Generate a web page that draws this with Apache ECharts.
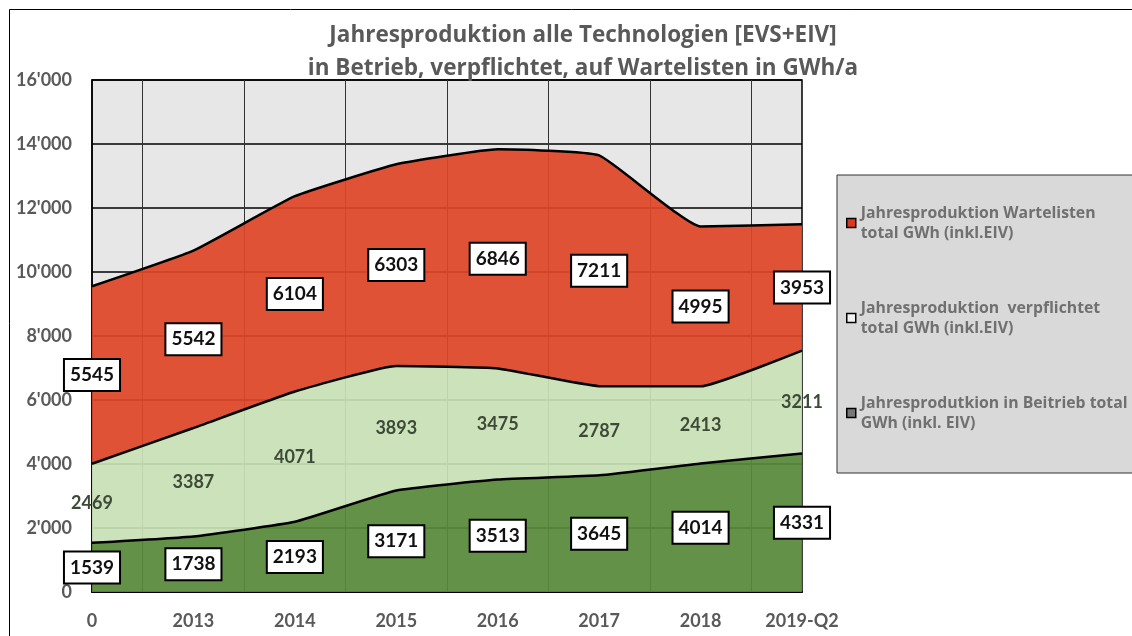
<!DOCTYPE html>
<html>
<head>
<meta charset="utf-8">
<script src="https://cdn.jsdelivr.net/npm/echarts@6/dist/echarts.min.js"></script>
<style>
  html, body { margin: 0; padding: 0; background: #fff; }
  #chart { width: 1132px; height: 636px; }
</style>
</head>
<body>
<div id="chart"></div>
<script>
const categories = ['0', '2013', '2014', '2015', '2016', '2017', '2018', '2019-Q2']
const inBetrieb = [1539, 1738, 2193, 3171, 3513, 3645, 4014, 4331]
const verpflichtet = [2469, 3387, 4071, 3893, 3475, 2787, 2413, 3211]
const wartelisten = [5545, 5542, 6104, 6303, 6846, 7211, 4995, 3953]

const nameWarte = 'Jahresproduktion Wartelisten total GWh (inkl.EIV)'
const nameVerpf = 'Jahresproduktion  verpflichtet total GWh (inkl.EIV)'
const nameBetrieb = 'Jahresprodutkion in Beitrieb total GWh (inkl. EIV)'
const legendText = {
  [nameWarte]: 'Jahresproduktion Wartelisten\ntotal GWh (inkl.EIV)',
  [nameVerpf]: 'Jahresproduktion  verpflichtet\ntotal GWh (inkl.EIV)',
  [nameBetrieb]: 'Jahresprodutkion in Beitrieb total\nGWh (inkl. EIV)'
}

const FONT = 'Lato'
const chart = echarts.init(document.getElementById('chart'))

// label anchors in the middle of each band
const midBetrieb = inBetrieb.map((v, i) => [i, v / 2, v])
const midVerpf = verpflichtet.map((v, i) => [i, inBetrieb[i] + v / 2, v])
const midWarte = wartelisten.map((v, i) => [i, inBetrieb[i] + verpflichtet[i] + v / 2, v])

const boxLabel = {
  show: true,
  position: 'inside',
  formatter: p => p.value[2],
  fontFamily: FONT,
  fontWeight: 'bold',
  fontSize: 19,
  color: '#111',
  backgroundColor: '#fff',
  borderColor: '#000',
  borderWidth: 2,
  padding: [6, 5, 5, 5]
}

function areaSeries(name, data, color) {
  return {
    name,
    type: 'line',
    stack: 'total',
    data,
    smooth: 0.12,
    symbol: 'none',
    lineStyle: { color: '#000', width: 2.5 },
    itemStyle: { color },
    areaStyle: { color, opacity: 0.92 },
    z: 3
  }
}

function labelSeries(data, label) {
  return {
    type: 'scatter',
    data,
    symbolSize: 0,
    silent: true,
    itemStyle: { opacity: 1 },
    label,
    z: 10
  }
}

const option = {
  animation: false,
  backgroundColor: '#fff',
  title: {
    text: 'Jahresproduktion alle Technologien [EVS+EIV]\nin Betrieb, verpflichtet, auf Wartelisten in GWh/a',
    left: 578,
    top: 14,
    textAlign: 'center',
    textStyle: {
      fontFamily: 'Open Sans',
      fontWeight: 'bold',
      fontSize: 22.5,
      lineHeight: 33,
      color: '#595959'
    }
  },
  legend: {
    orient: 'vertical',
    left: 837,
    top: 175,
    width: 293,
    height: 285,
    padding: [18, 6, 30, 9],
    backgroundColor: '#d9d9d9',
    borderColor: '#333',
    borderWidth: 1,
    itemWidth: 9,
    itemHeight: 9,
    itemGap: 35,
    icon: 'rect',
    formatter: n => legendText[n],
    textStyle: {
      fontFamily: 'Open Sans',
      fontWeight: 'bold',
      fontSize: 15.8,
      lineHeight: 20,
      color: '#707070',
      padding: [20, 0, 0, 0]
    },
    data: [
      { name: nameWarte, itemStyle: { color: '#d63a22', borderColor: '#000', borderWidth: 1.5 } },
      { name: nameVerpf, itemStyle: { color: '#f2f2f2', borderColor: '#000', borderWidth: 1.5 } },
      { name: nameBetrieb, itemStyle: { color: '#777', borderColor: '#000', borderWidth: 1.5 } }
    ]
  },
  grid: {
    left: 92,
    right: 330,
    top: 80,
    bottom: 44,
    show: true,
    backgroundColor: '#e7e7e7',
    borderColor: '#000',
    borderWidth: 1.5
  },
  xAxis: [
    {
      type: 'category',
      data: categories,
      boundaryGap: false,
      axisLine: { lineStyle: { color: '#000', width: 2 } },
      axisTick: { show: false },
      splitLine: { show: false },
      axisLabel: {
        margin: 20,
        fontFamily: FONT,
        fontWeight: 'bold',
        fontSize: 18,
        color: '#595959'
      }
    },
    {
      // helper axis for the vertical grid lines between the years
      type: 'category',
      data: new Array(categories.length * 2 - 1).fill(''),
      boundaryGap: false,
      position: 'top',
      axisLine: { show: false },
      axisTick: { show: false },
      axisLabel: { show: false },
      splitLine: {
        show: true,
        interval: i => i % 2 === 1,
        lineStyle: { color: '#333', width: 1 }
      }
    }
  ],
  yAxis: {
    type: 'value',
    min: 0,
    max: 16000,
    interval: 2000,
    axisLine: { show: true, lineStyle: { color: '#000', width: 1.5 } },
    axisTick: { show: false },
    splitLine: { lineStyle: { color: '#000', width: 1.5 } },
    axisLabel: {
      margin: 20,
      fontFamily: FONT,
      fontWeight: 'bold',
      fontSize: 18,
      color: '#595959',
      formatter: v => v === 0 ? '0' : String(v).replace(/(\d)(?=(\d{3})+$)/, "$1'")
    }
  },
  series: [
    areaSeries(nameBetrieb, inBetrieb, '#578a3a'),
    areaSeries(nameVerpf, verpflichtet, '#c9e2b6'),
    areaSeries(nameWarte, wartelisten, '#de4527'),
    labelSeries(midBetrieb, boxLabel),
    labelSeries(midVerpf, {
      show: true,
      position: 'inside',
      formatter: p => p.value[2],
      fontFamily: FONT,
      fontWeight: 'bold',
      fontSize: 18,
      color: '#3d4a38'
    }),
    labelSeries(midWarte, boxLabel)
  ],
  graphic: [
    {
      type: 'rect',
      silent: true,
      shape: { x: 9.5, y: 9.5, width: 1200, height: 700 },
      style: { fill: 'none', stroke: '#000', lineWidth: 1 }
    }
  ]
}

chart.setOption(option)
</script>
</body>
</html>
